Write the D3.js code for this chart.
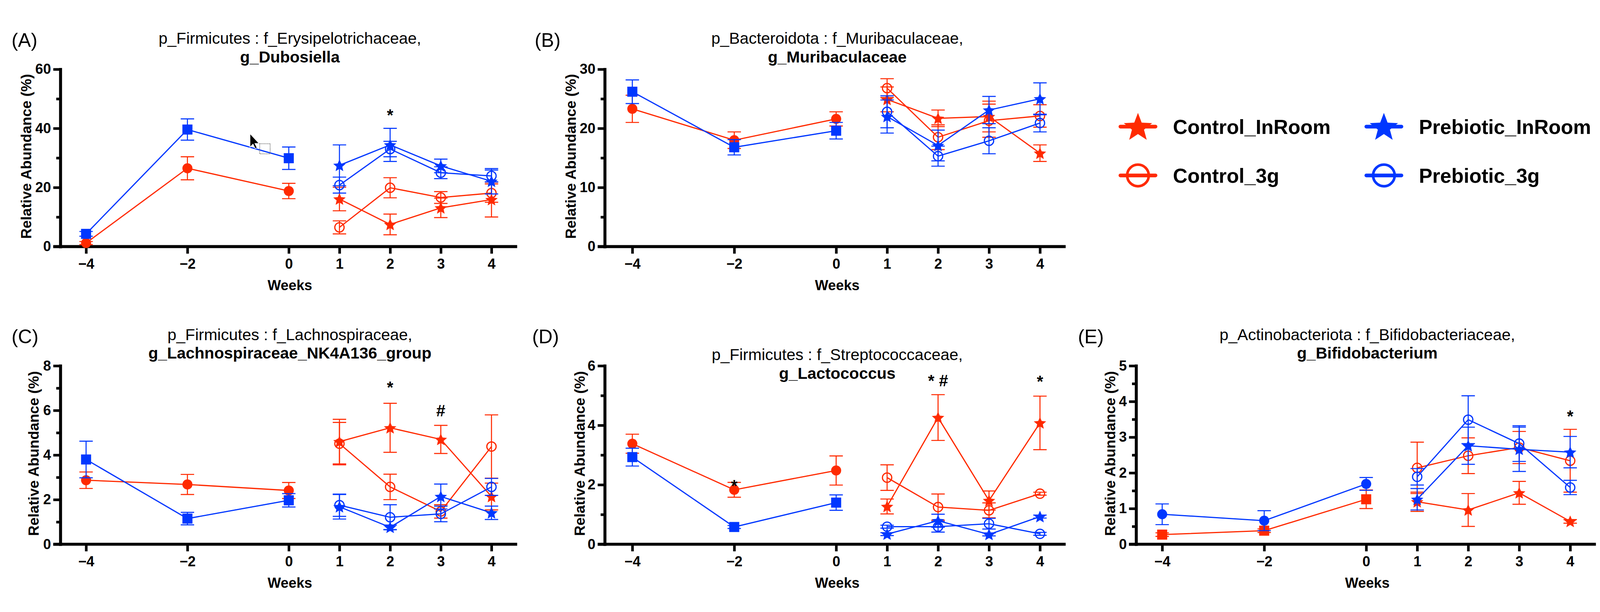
<!DOCTYPE html>
<html>
<head>
<meta charset="utf-8">
<script src="https://cdn.jsdelivr.net/npm/d3@7"></script>
<style>
    html, body { margin: 0; padding: 0; overflow: hidden; background: #fff; }
    svg { display: block; width: 100vw; height: 100vh; }
    text { font-family: "Liberation Sans", Arial, sans-serif; }
</style>
</head>
<body>
<svg id="fig" viewBox="0 0 4294 1567" preserveAspectRatio="xMidYMid meet"></svg>
<script>
/* global d3: true */

// ---- data (mean, SEM) ----
const weeksPre = [-4, -2, 0];
const weeksPost = [1, 2, 3, 4];
const weekTicks = [-4, -2, 0, 1, 2, 3, 4];
const groupNames = ['Control_InRoom', 'Control_3g', 'Prebiotic_InRoom', 'Prebiotic_3g'];

// (A) g_Dubosiella
const dubPreCtl = [1.2, 26.5, 18.8];
const dubPreCtlErr = [0.5, 3.9, 2.6];
const dubPrePre = [4.3, 39.6, 29.9];
const dubPrePreErr = [0.8, 3.6, 3.8];
const dubCtlRoom = [16.1, 7.5, 13.1, 15.9];
const dubCtlRoomErr = [4.0, 3.5, 3.3, 5.9];
const dubCtl3g = [6.5, 19.9, 16.6, 18.1];
const dubCtl3gErr = [2.2, 3.4, 2.0, 3.1];
const dubPreRoom = [27.5, 34.4, 27.3, 22.1];
const dubPreRoomErr = [6.9, 5.6, 2.3, 4.3];
const dubPre3g = [20.8, 33.0, 25.0, 23.9];
const dubPre3gErr = [2.7, 2.6, 2.0, 2.0];
const dubMarks = [{week: 2, value: 45, label: '*'}];

// (B) g_Muribaculaceae
const murPreCtl = [23.3, 18.0, 21.6];
const murPreCtlErr = [2.3, 1.4, 1.2];
const murPrePre = [26.2, 16.8, 19.6];
const murPrePreErr = [2.0, 1.3, 1.4];
const murCtlRoom = [24.9, 21.7, 22.0, 15.8];
const murCtlRoomErr = [2.1, 1.4, 2.6, 1.4];
const murCtl3g = [26.8, 18.5, 21.3, 22.1];
const murCtl3gErr = [1.6, 2.1, 2.8, 1.9];
const murPreRoom = [22.0, 17.1, 23.1, 25.0];
const murPreRoomErr = [2.8, 2.6, 2.3, 2.7];
const murPre3g = [22.8, 15.3, 17.9, 20.9];
const murPre3gErr = [2.7, 1.7, 2.2, 1.5];
const murMarks = [];

// (C) g_Lachnospiraceae_NK4A136_group
const lacPreCtl = [2.87, 2.68, 2.41];
const lacPreCtlErr = [0.37, 0.45, 0.36];
const lacPrePre = [3.8, 1.15, 1.97];
const lacPrePreErr = [0.82, 0.28, 0.3];
const lacCtlRoom = [4.6, 5.22, 4.7, 2.14];
const lacCtlRoomErr = [1.0, 1.1, 0.63, 0.6];
const lacCtl3g = [4.51, 2.57, 1.47, 4.38];
const lacCtl3gErr = [0.95, 0.57, 0.3, 1.42];
const lacPreRoom = [1.68, 0.76, 2.14, 1.41];
const lacPreRoomErr = [0.55, 0.1, 0.56, 0.3];
const lacPre3g = [1.75, 1.21, 1.36, 2.57];
const lacPre3gErr = [0.5, 0.56, 0.35, 0.38];
const lacMarks = [{week: 2, value: 7.1, label: '*'}, {week: 3, value: 6.06, label: '#'}];

// (D) g_Lactococcus
const lcPreCtl = [3.38, 1.83, 2.48];
const lcPreCtlErr = [0.32, 0.25, 0.49];
const lcPrePre = [2.93, 0.58, 1.40];
const lcPrePreErr = [0.3, 0.05, 0.26];
const lcCtlRoom = [1.27, 4.26, 1.47, 4.08];
const lcCtlRoomErr = [0.25, 0.77, 0.32, 0.9];
const lcCtl3g = [2.24, 1.25, 1.14, 1.70];
const lcCtl3gErr = [0.43, 0.44, 0.25, 0.05];
const lcPreRoom = [0.34, 0.79, 0.33, 0.93];
const lcPreRoomErr = [0.05, 0.22, 0.05, 0.05];
const lcPre3g = [0.59, 0.59, 0.69, 0.35];
const lcPre3gErr = [0.05, 0.18, 0.18, 0.05];
const lcMarks = [{week: -2, value: 2.02, label: '*'}, {week: 2, value: 5.55, label: '* #'},
    {week: 4, value: 5.52, label: '*'}];

// (E) g_Bifidobacterium
const bifPreCtl = [0.27, 0.38, 1.26];
const bifPreCtlErr = [0.05, 0.05, 0.26];
const bifPrePre = [0.84, 0.66, 1.69];
const bifPrePreErr = [0.29, 0.28, 0.18];
const bifCtlRoom = [1.19, 0.96, 1.44, 0.64];
const bifCtlRoomErr = [0.27, 0.46, 0.32, 0.05];
const bifCtl3g = [2.14, 2.48, 2.71, 2.34];
const bifCtl3gErr = [0.72, 0.5, 0.45, 0.88];
const bifPreRoom = [1.26, 2.76, 2.66, 2.58];
const bifPreRoomErr = [0.3, 0.52, 0.62, 0.44];
const bifPre3g = [1.89, 3.49, 2.82, 1.59];
const bifPre3gErr = [0.23, 0.67, 0.5, 0.2];
const bifMarks = [{week: 4, value: 3.63, label: '*'}];

// ---- styling / layout ----
const RED = '#ff2a00';
const BLUE = '#0037ff';
const FONT = '"Liberation Sans", Arial, sans-serif';

const panels = [
    {tag: '(A)', head: 'p_Firmicutes : f_Erysipelotrichaceae,', genus: 'g_Dubosiella',
        yMax: 60, yMajor: 20, yMinor: 10, preShapes: ['circle', 'square'],
        pre: [[dubPreCtl, dubPreCtlErr], [dubPrePre, dubPrePreErr]],
        post: [[dubCtlRoom, dubCtlRoomErr], [dubCtl3g, dubCtl3gErr],
            [dubPreRoom, dubPreRoomErr], [dubPre3g, dubPre3gErr]],
        marks: dubMarks,
        lay: {axisX: 162, x0: 231, x1: 1319, zero: 624, top: 148,
            titleY: 80, yTitle: 92, tagX: 31, tagY: 88}},
    {tag: '(B)', head: 'p_Bacteroidota : f_Muribaculaceae,', genus: 'g_Muribaculaceae',
        yMax: 30, yMajor: 10, yMinor: 5, preShapes: ['circle', 'square'],
        pre: [[murPreCtl, murPreCtlErr], [murPrePre, murPrePreErr]],
        post: [[murCtlRoom, murCtlRoomErr], [murCtl3g, murCtl3gErr],
            [murPreRoom, murPreRoomErr], [murPre3g, murPre3gErr]],
        marks: murMarks,
        lay: {axisX: 1623, x0: 1697, x1: 2791, zero: 624, top: 148,
            titleY: 80, yTitle: 92, tagX: 1435, tagY: 88}},
    {tag: '(C)', head: 'p_Firmicutes : f_Lachnospiraceae,', genus: 'g_Lachnospiraceae_NK4A136_group',
        yMax: 8, yMajor: 2, yMinor: 1, preShapes: ['circle', 'square'],
        pre: [[lacPreCtl, lacPreCtlErr], [lacPrePre, lacPrePreErr]],
        post: [[lacCtlRoom, lacCtlRoomErr], [lacCtl3g, lacCtl3gErr],
            [lacPreRoom, lacPreRoomErr], [lacPre3g, lacPre3gErr]],
        marks: lacMarks,
        lay: {axisX: 162, x0: 231, x1: 1319, zero: 1423, top: 944,
            titleY: 875, yTitle: 72, tagX: 31, tagY: 884}},
    {tag: '(D)', head: 'p_Firmicutes : f_Streptococcaceae,', genus: 'g_Lactococcus',
        yMax: 6, yMajor: 2, yMinor: 1, preShapes: ['circle', 'square'],
        pre: [[lcPreCtl, lcPreCtlErr], [lcPrePre, lcPrePreErr]],
        post: [[lcCtlRoom, lcCtlRoomErr], [lcCtl3g, lcCtl3gErr],
            [lcPreRoom, lcPreRoomErr], [lcPre3g, lcPre3gErr]],
        marks: lcMarks,
        lay: {axisX: 1623, x0: 1697, x1: 2791, zero: 1423, top: 944,
            titleY: 929, yTitle: 68, tagX: 1428, tagY: 884}},
    {tag: '(E)', head: 'p_Actinobacteriota : f_Bifidobacteriaceae,', genus: 'g_Bifidobacterium',
        yMax: 5, yMajor: 1, yMinor: 0.5, preShapes: ['square', 'circle'],
        pre: [[bifPreCtl, bifPreCtlErr], [bifPrePre, bifPrePreErr]],
        post: [[bifCtlRoom, bifCtlRoomErr], [bifCtl3g, bifCtl3gErr],
            [bifPreRoom, bifPreRoomErr], [bifPre3g, bifPre3gErr]],
        marks: bifMarks,
        lay: {axisX: 3049, x0: 3119, x1: 4214, zero: 1423, top: 944,
            titleY: 875, yTitle: 70, tagX: 2893, tagY: 884}}
];

const postStyle = [
    {color: RED, shape: 'star'},
    {color: RED, shape: 'ocircle'},
    {color: BLUE, shape: 'star'},
    {color: BLUE, shape: 'ocircle'}
];

function starPath(R, r) {
    let pts = [];
    for (let i = 0; i < 10; i++) {
        const a = -Math.PI / 2 + i * Math.PI / 5;
        const rad = i % 2 ? r : R;
        pts.push([rad * Math.cos(a), rad * Math.sin(a)]);
    }
    return 'M' + pts.map(function(p) { return p[0].toFixed(2) + ',' + p[1].toFixed(2); }).join('L') + 'Z';
}

function addMarker(g, shape, color, cx, cy) {
    if (shape === 'square') {
        g.append('rect')
            .attr('x', cx - 13.5).attr('y', cy - 13.5)
            .attr('width', 27).attr('height', 27)
            .attr('fill', color);
    } else if (shape === 'circle') {
        g.append('circle')
            .attr('cx', cx).attr('cy', cy).attr('r', 13.5)
            .attr('fill', color);
    } else if (shape === 'star') {
        g.append('path')
            .attr('d', starPath(17.5, 8))
            .attr('transform', 'translate(' + cx + ',' + (cy + 1.5) + ')')
            .attr('fill', color);
    } else {
        g.append('circle')
            .attr('cx', cx).attr('cy', cy).attr('r', 12.5)
            .attr('fill', 'none')
            .attr('stroke', color)
            .attr('stroke-width', 3.2);
    }
}

function drawPanel(svg, p) {
    const lay = p.lay;
    const g = svg.append('g');
    const x = d3.scaleLinear().domain([-4, 4]).range([lay.x0, lay.x1]);
    const y = d3.scaleLinear().domain([0, p.yMax]).range([lay.zero, lay.top]);
    const midX = x(0) + 3;

    // titles
    g.append('text')
        .attr('x', lay.tagX).attr('y', lay.tagY)
        .attr('font-size', 52)
        .text(p.tag);
    g.append('text')
        .attr('x', midX).attr('y', lay.titleY)
        .attr('text-anchor', 'middle')
        .attr('font-size', 43)
        .text(p.head);
    g.append('text')
        .attr('x', midX).attr('y', lay.titleY + 50)
        .attr('text-anchor', 'middle')
        .attr('font-size', 43)
        .attr('font-weight', 'bold')
        .text(p.genus);

    // y axis, minor then major ticks
    const minorAxis = g.append('g')
        .attr('transform', 'translate(' + lay.axisX + ',0)')
        .call(d3.axisLeft(y)
            .tickValues(d3.range(p.yMinor, p.yMax, p.yMajor))
            .tickSize(11).tickFormat(''));
    minorAxis.select('.domain').remove();
    minorAxis.selectAll('.tick line').attr('stroke-width', 7);

    const yAxis = g.append('g')
        .attr('transform', 'translate(' + lay.axisX + ',0)')
        .call(d3.axisLeft(y)
            .tickValues(d3.range(0, p.yMax + p.yMajor / 2, p.yMajor))
            .tickSize(19).tickSizeOuter(0).tickPadding(6)
            .tickFormat(d3.format('d')));
    yAxis.attr('font-family', FONT).attr('font-size', 38).attr('font-weight', 'bold');
    yAxis.select('.domain').attr('stroke-width', 8).attr('stroke-linecap', 'square');
    yAxis.selectAll('.tick line').attr('stroke-width', 7);
    yAxis.selectAll('.tick text').attr('fill', '#000');

    // x axis
    const xAxis = g.append('g')
        .attr('transform', 'translate(0,' + lay.zero + ')')
        .call(d3.axisBottom(x)
            .tickValues(weekTicks)
            .tickSize(19).tickPadding(13)
            .tickFormat(function(d) { return d < 0 ? '\u2212' + Math.abs(d) : String(d); }));
    xAxis.select('.domain').remove();
    xAxis.attr('font-family', FONT).attr('font-size', 38).attr('font-weight', 'bold');
    xAxis.selectAll('.tick line').attr('stroke-width', 7);
    xAxis.selectAll('.tick text').attr('fill', '#000');
    xAxis.append('line')
        .attr('x1', lay.axisX - 19).attr('x2', Math.min(x(4) + 69, 4286))
        .attr('y1', 0).attr('y2', 0)
        .attr('stroke', '#000').attr('stroke-width', 8);

    g.append('text')
        .attr('x', midX).attr('y', lay.zero + 117)
        .attr('text-anchor', 'middle')
        .attr('font-size', 38).attr('font-weight', 'bold')
        .text('Weeks');
    const ty = (lay.zero + lay.top) / 2 - 4;
    const tx = lay.axisX - lay.yTitle + 14;
    g.append('text')
        .attr('transform', 'translate(' + tx + ',' + ty + ') rotate(-90)')
        .attr('text-anchor', 'middle')
        .attr('font-size', 39).attr('font-weight', 'bold')
        .text('Relative Abundance (%)');

    // series
    let series = [];
    p.pre.forEach(function(s, i) {
        series.push({weeks: weeksPre, values: s[0], errs: s[1],
            color: i === 0 ? RED : BLUE, shape: p.preShapes[i]});
    });
    p.post.forEach(function(s, i) {
        series.push({weeks: weeksPost, values: s[0], errs: s[1],
            color: postStyle[i].color, shape: postStyle[i].shape});
    });

    const line = d3.line()
        .x(function(d) { return x(d.week); })
        .y(function(d) { return y(d.value); });

    series.forEach(function(s) {
        const pts = s.weeks.map(function(w, i) {
            return {week: w, value: s.values[i], err: s.errs[i]};
        });
        const sg = g.append('g');
        sg.append('path')
            .datum(pts)
            .attr('d', line)
            .attr('fill', 'none')
            .attr('stroke', s.color)
            .attr('stroke-width', 3.2);
        pts.forEach(function(d) {
            const cx = x(d.week);
            const hi = y(d.value + d.err);
            const lo = y(Math.max(0, d.value - d.err));
            sg.append('line')
                .attr('x1', cx).attr('x2', cx).attr('y1', hi).attr('y2', lo)
                .attr('stroke', s.color).attr('stroke-width', 2.8);
            [hi, lo].forEach(function(yy) {
                sg.append('line')
                    .attr('x1', cx - 18).attr('x2', cx + 18)
                    .attr('y1', yy).attr('y2', yy)
                    .attr('stroke', s.color).attr('stroke-width', 2.8);
            });
        });
        pts.forEach(function(d) {
            addMarker(sg, s.shape, s.color, x(d.week), y(d.value));
        });
    });

    // significance marks
    p.marks.forEach(function(m) {
        g.append('text')
            .attr('x', x(m.week)).attr('y', y(m.value) + 19)
            .attr('text-anchor', 'middle')
            .attr('font-size', 44).attr('font-weight', 'bold')
            .text(m.label);
    });
}

const svg = d3.select('#fig');
svg.append('rect').attr('width', 4294).attr('height', 1567).attr('fill', '#fff');

panels.forEach(function(p) { drawPanel(svg, p); });

// stray cursor captured in panel A
const cur = svg.append('g').attr('transform', 'translate(671,321)');
cur.append('path')
    .attr('d', 'M0,0 L0,36 L8,28 L14,40 L19,38 L13,26 L24,26 Z')
    .attr('fill', '#000').attr('stroke', '#fff').attr('stroke-width', 1.5);
cur.append('rect')
    .attr('x', 26).attr('y', 27).attr('width', 28).attr('height', 27)
    .attr('fill', 'none').attr('stroke', '#555').attr('stroke-width', 2)
    .attr('stroke-dasharray', '2,2');

// legend
const legendPos = [
    {x: 3054, y: 302}, {x: 3054, y: 433},
    {x: 3714, y: 302}, {x: 3714, y: 433}
];
const legend = svg.append('g').attr('class', 'legend');
groupNames.forEach(function(name, i) {
    const st = postStyle[i];
    const pos = legendPos[i];
    const lg = legend.append('g');
    lg.append('line')
        .attr('x1', pos.x - 47).attr('x2', pos.x + 47)
        .attr('y1', pos.y).attr('y2', pos.y)
        .attr('stroke', st.color).attr('stroke-width', 10)
        .attr('stroke-linecap', 'round');
    if (st.shape === 'star') {
        lg.append('path')
            .attr('d', starPath(40, 17))
            .attr('transform', 'translate(' + pos.x + ',' + (pos.y + 3) + ')')
            .attr('fill', st.color);
    } else {
        lg.append('circle')
            .attr('cx', pos.x).attr('cy', pos.y).attr('r', 29)
            .attr('fill', 'none').attr('stroke', st.color).attr('stroke-width', 7);
    }
    lg.append('text')
        .attr('x', pos.x + 94).attr('y', pos.y + 20)
        .attr('font-size', 54).attr('font-weight', 'bold')
        .text(name);
});
</script>
</body>
</html>
